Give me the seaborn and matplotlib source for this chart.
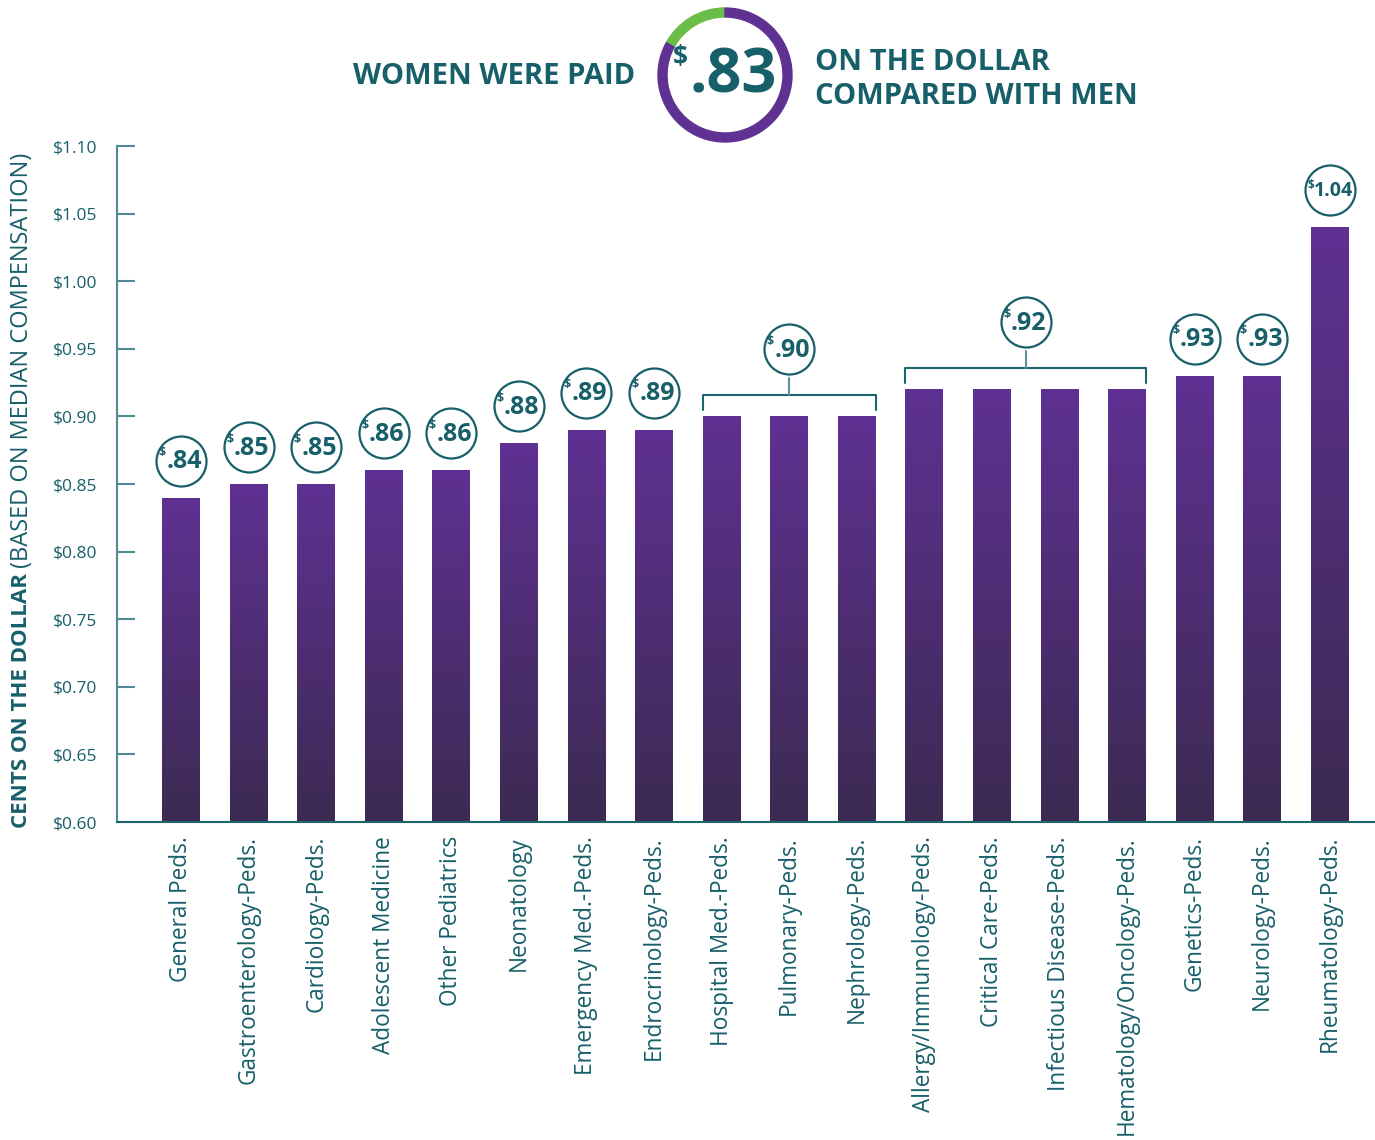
import numpy as np
import pandas as pd
import seaborn as sns
import matplotlib.pyplot as plt
from matplotlib.patches import Wedge
from matplotlib.colors import LinearSegmentedColormap

specialties = [
    "General Peds.", "Gastroenterology-Peds.", "Cardiology-Peds.",
    "Adolescent Medicine", "Other Pediatrics", "Neonatology",
    "Emergency Med.-Peds.", "Endrocrinology-Peds.", "Hospital Med.-Peds.",
    "Pulmonary-Peds.", "Nephrology-Peds.", "Allergy/Immunology-Peds.",
    "Critical Care-Peds.", "Infectious Disease-Peds.",
    "Hematology/Oncology-Peds.", "Genetics-Peds.", "Neurology-Peds.",
    "Rheumatology-Peds.",
]
pay_ratio = [0.84, 0.85, 0.85, 0.86, 0.86, 0.88, 0.89, 0.89, 0.90, 0.90,
             0.90, 0.92, 0.92, 0.92, 0.92, 0.93, 0.93, 1.04]
# bars that share one bracketed label: (first, last)
groups = [(8, 10), (11, 14)]
overall = ".83"

TEAL = "#175f69"
AXIS = "#4f8b93"
PURPLE = "#5e3192"
GREEN = "#6abd46"

sns.set_theme(style="white")
plt.rcParams["font.family"] = ["Open Sans", "DejaVu Sans"]

W, H = 1375, 1140
fig = plt.figure(figsize=(W / 100, H / 100), dpi=100)
ax = fig.add_axes([117 / W, 318 / H, 1 - 117 / W, 676 / H])

df = pd.DataFrame({"specialty": specialties, "ratio": pay_ratio})
sns.barplot(data=df, x="specialty", y="ratio", color=PURPLE, width=0.56,
            saturation=1, ax=ax)

ymin, ymax = 0.60, 1.10
xlim = (-0.947, len(specialties) - 1 + 0.67)

# vertical gradient on each bar
cmap = LinearSegmentedColormap.from_list("bar", ["#3c2a52", "#5f3193"])
grad = np.linspace(0, 1, 256).reshape(-1, 1)
for p in list(ax.patches):
    x, w, h = p.get_x(), p.get_width(), p.get_height()
    im = ax.imshow(grad, extent=[x, x + w, ymin, h], origin="lower",
                   aspect="auto", cmap=cmap, zorder=2)
    im.set_clip_path(p)
    p.set_facecolor("none")
    p.set_edgecolor("none")
ax.set_xlim(*xlim)
ax.set_ylim(ymin, ymax)

# axes styling
for s in ["top", "right"]:
    ax.spines[s].set_visible(False)
ax.spines["left"].set_color(AXIS)
ax.spines["left"].set_linewidth(1.5)
ax.spines["bottom"].set_color("#1d6670")
ax.spines["bottom"].set_linewidth(1.5)
yt = np.arange(0.60, 1.101, 0.05)
ax.set_yticks(yt)
ax.set_yticklabels([f"${t:.2f}" for t in yt])
ax.tick_params(axis="y", direction="in", length=13, width=1.5, color=AXIS,
               labelsize=12.5, labelcolor=TEAL, pad=14, left=True)
ax.tick_params(axis="x", length=0, labelsize=16.3, labelcolor=TEAL, pad=10)
plt.setp(ax.get_xticklabels(), rotation=90, ha="center", va="top")
ax.set_xlabel("")
ax.set_ylabel("")

# pixel -> data helper for vertical offsets
px = (ymax - ymin) / 676


def badge(x, y, value):
    ax.plot(x, y, marker="o", markersize=36, markerfacecolor="white",
            markeredgecolor=TEAL, markeredgewidth=1.6, zorder=4, clip_on=False)
    txt = f"{value:.2f}"
    if value < 1:
        txt = txt[1:]
        ax.annotate(txt, (x, y), xytext=(3, -1), textcoords="offset pixels",
                    ha="center", va="center", fontsize=18, fontweight="bold",
                    color=TEAL, zorder=5, annotation_clip=False)
        ax.annotate("$", (x, y), xytext=(-19, 8), textcoords="offset pixels",
                    ha="center", va="center", fontsize=9, fontweight="bold",
                    color=TEAL, zorder=5, annotation_clip=False)
    else:
        ax.annotate(txt, (x, y), xytext=(4, -1), textcoords="offset pixels",
                    ha="center", va="center", fontsize=14, fontweight="bold",
                    color=TEAL, zorder=5, annotation_clip=False)
        ax.annotate("$", (x, y), xytext=(-19, 5), textcoords="offset pixels",
                    ha="center", va="center", fontsize=8.5, fontweight="bold",
                    color=TEAL, zorder=5, annotation_clip=False)


grouped = set()
for a, b in groups:
    grouped.update(range(a, b + 1))
    v = pay_ratio[a]
    xl, xr = a - 0.28, b + 0.28
    yb = v + 21 * px
    ax.plot([xl, xl, xr, xr], [v + 6 * px, yb, yb, v + 6 * px],
            color="#1d6670", lw=1.5, zorder=3, clip_on=False)
    xc = (a + b) / 2
    ax.plot([xc, xc], [yb, yb + 17 * px], color="#5a9298", lw=1.5, zorder=3,
            clip_on=False)
    badge(xc, yb + 46 * px, v)

for i, v in enumerate(pay_ratio):
    if i not in grouped:
        badge(i, v + 37 * px, v)

# y label in two weights
t1 = fig.text(22 / W, 1 - 828 / H, "CENTS ON THE DOLLAR", rotation=90,
              ha="center", va="bottom", fontsize=16, fontweight="bold",
              color=TEAL)
fig.canvas.draw()
bb = t1.get_window_extent()
fig.text(22 / W, (bb.y1 + 5) / H, "(BASED ON MEDIAN COMPENSATION)",
         rotation=90, ha="center", va="bottom", fontsize=17, color=TEAL)

# header
fig.text(635 / W, 1 - 76 / H, "WOMEN WERE PAID", ha="right", va="center",
         fontsize=21, fontweight="bold", color=TEAL)
fig.text(815 / W, 1 - 62 / H, "ON THE DOLLAR", ha="left", va="center",
         fontsize=21, fontweight="bold", color=TEAL)
fig.text(815 / W, 1 - 96 / H, "COMPARED WITH MEN", ha="left", va="center",
         fontsize=21, fontweight="bold", color=TEAL)

ring = fig.add_axes([650 / W, 990 / H, 150 / W, 150 / H])
ring.set_xlim(0, 150)
ring.set_ylim(0, 150)
ring.axis("off")
share = 0.83
split = 90 + 360 * (1 - share)
ring.add_patch(Wedge((75, 75), 67, 90, split, width=9, color=GREEN))
ring.add_patch(Wedge((75, 75), 67, split, 450, width=9, color=PURPLE))
ring.text(83, 73, overall, ha="center", va="center", fontsize=44,
          fontweight="bold", color=TEAL)
ring.text(30, 92, "$", ha="center", va="center", fontsize=19,
          fontweight="bold", color=TEAL)

fig.savefig("out.png", dpi=100)
